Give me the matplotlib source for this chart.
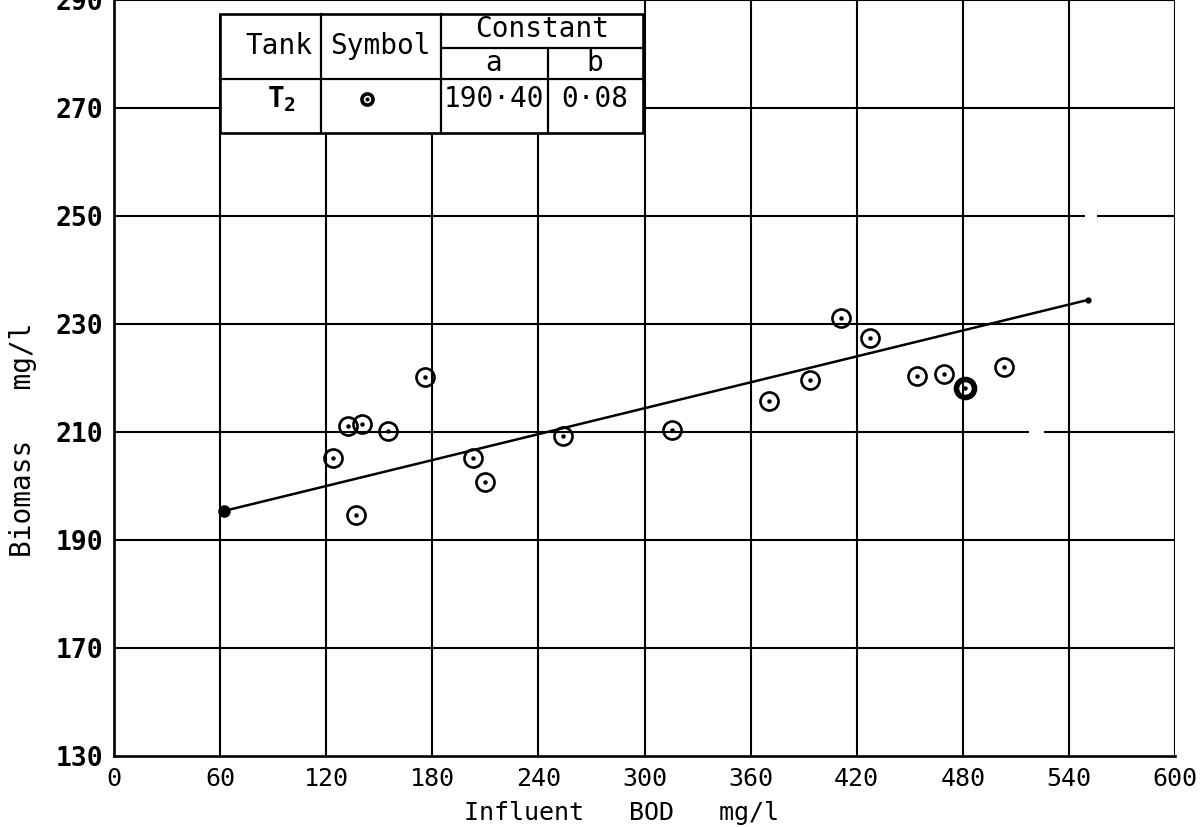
import matplotlib
matplotlib.use("Agg")
import matplotlib.pyplot as plt
from matplotlib.patches import Rectangle

# Observations for tank T2: influent BOD (mg/l) against biomass (mg/l)
bod = [123.6, 132.2, 136.9, 140.3, 155.0, 176.0, 202.9, 209.7, 253.8, 315.5,
       370.3, 393.4, 411.1, 427.7, 454.2, 469.4, 481.5, 503.2]
biomass = [205.1, 211.2, 194.7, 211.4, 210.1, 220.2, 205.2, 200.7, 209.2, 210.4,
           215.8, 219.6, 231.2, 227.4, 220.4, 220.7, 218.2, 222.1]
heavy_points = [16]          # point inked more heavily on the sheet

# Fitted relation: biomass = a + b * BOD
tank_sub = "2"
const_a = 190.40
const_b = 0.08
fit_bod = [62.4, 550.6]      # extent of the drawn fit line

x_ticks = [0, 60, 120, 180, 240, 300, 360, 420, 480, 540, 600]
y_tick_labels = [130, 170, 190, 210, 230, 250, 270, 290]

MONO = "DejaVu Sans Mono"
plt.rcParams["font.family"] = [MONO, "DejaVu Sans"]
plt.rcParams["mathtext.fontset"] = "custom"
plt.rcParams["mathtext.rm"] = MONO
plt.rcParams["mathtext.bf"] = MONO + ":bold"

fig = plt.figure(figsize=(12.01, 8.27), dpi=100)
ax = fig.add_axes([114 / 1201, 71 / 827, 1061 / 1201, 756 / 827])
ax.set_xlim(0, 600)
ax.set_ylim(150, 290)

# broken y axis: the bottom edge carries 130, one grid step below 170
grid_step = y_tick_labels[2] - y_tick_labels[1]
y_pos = [y_tick_labels[1] - grid_step] + y_tick_labels[1:]

for side in ("top", "right"):
    ax.spines[side].set_visible(False)
for side in ("left", "bottom"):
    ax.spines[side].set_linewidth(1.9)
    ax.spines[side].set_zorder(2)

# table geometry (data coordinates)
tx = [60, 117, 184.7, 245.2, 299]
ty_bot, ty_row, ty_sub, ty_top = 265.4, 275.4, 281.1, 287.4

# graph-paper grid
grid_kw = dict(color="black", linewidth=1.5, zorder=1)
for xv in x_ticks[1:]:
    top = ty_top if xv <= 240 else 290
    ax.vlines(xv, 150, top, **grid_kw)
gaps = {250: (549, 556), 210: (517.3, 525.7)}
for yv in y_pos[1:]:
    if yv in gaps:
        g0, g1 = gaps[yv]
        ax.hlines(yv, 0, g0, **grid_kw)
        ax.hlines(yv, g1, 600, **grid_kw)
    else:
        ax.hlines(yv, 0, 600, **grid_kw)

# fit line with its end dots
fit_y = [const_a + const_b * x for x in fit_bod]
ax.plot(fit_bod, fit_y, color="black", linewidth=1.8, zorder=4)
ax.plot(fit_bod[0], fit_y[0], "o", color="black", ms=8, zorder=4)
ax.plot(fit_bod[1], fit_y[1], "o", color="black", ms=3.5, zorder=4)

# observed points: open circles with a centre dot
ax.plot(bod, biomass, "o", ms=13, mfc="none", mec="black", mew=1.9, zorder=5)
ax.plot([bod[i] for i in heavy_points], [biomass[i] for i in heavy_points], "o",
        ms=13, mfc="none", mec="black", mew=4.0, zorder=5)
ax.plot(bod, biomass, "o", ms=2.2, color="black", zorder=6)

# constants table
ax.add_patch(Rectangle((tx[0], ty_bot), tx[-1] - tx[0], ty_top - ty_bot,
                       facecolor="white", edgecolor="black", linewidth=1.9,
                       zorder=7, clip_on=False))
line_kw = dict(color="black", linewidth=1.6, zorder=8, clip_on=False)
ax.plot([tx[0], tx[-1]], [ty_row, ty_row], **line_kw)
ax.plot([tx[2], tx[-1]], [ty_sub, ty_sub], **line_kw)
for xv in tx[1:3]:
    ax.plot([xv, xv], [ty_bot, ty_top], **line_kw)
ax.plot([tx[3], tx[3]], [ty_bot, ty_sub], **line_kw)

cell_kw = dict(ha="center", va="center", fontsize=20, zorder=9)
head_y = (ty_row + ty_top) / 2
ax.text((tx[0] + tx[1]) / 2 + 5, head_y, "Tank", **cell_kw)
ax.text((tx[1] + tx[2]) / 2, head_y, "Symbol", **cell_kw)
ax.text((tx[2] + tx[4]) / 2, (ty_sub + ty_top) / 2 + 0.3, "Constant", **cell_kw)
ax.text((tx[2] + tx[3]) / 2, (ty_row + ty_sub) / 2, "a", **cell_kw)
ax.text((tx[3] + tx[4]) / 2, (ty_row + ty_sub) / 2, "b", **cell_kw)
row_y = 271.6
ax.text((tx[0] + tx[1]) / 2 + 6, row_y, r"$\mathbf{T_{%s}}$" % tank_sub,
        ha="center", va="center", fontsize=20, zorder=9)
sym_x = (tx[1] + tx[2]) / 2 - 8
ax.plot(sym_x, row_y, "o", ms=8, mfc="none", mec="black",
        mew=2.6, zorder=9, clip_on=False)
ax.plot(sym_x, row_y, "o", ms=2, color="black", zorder=9, clip_on=False)
ax.text((tx[2] + tx[3]) / 2, row_y, f"{const_a:.2f}".replace(".", "·"), **cell_kw)
ax.text((tx[3] + tx[4]) / 2, row_y, f"{const_b:.2f}".replace(".", "·"), **cell_kw)

# axes ticks and labels
ax.set_xticks(x_ticks)
ax.set_xticklabels([str(v) for v in x_ticks], fontsize=18)
ax.set_yticks(y_pos)
ax.set_yticklabels([str(v) for v in y_tick_labels], fontsize=19, fontweight="bold")
ax.tick_params(axis="x", length=0, pad=8)
ax.tick_params(axis="y", length=0, pad=8)

ax.set_xlabel("Influent   BOD   mg/l", fontsize=18)
ax.xaxis.set_label_coords((621 - 114) / 1061, (756 - 813) / 756)
ax.xaxis.label.set_va("center")
ax.set_ylabel("Biomass   mg/l", fontsize=20)
ax.yaxis.set_label_coords((23 - 114) / 1061, (756 - 440) / 756)
ax.yaxis.label.set_va("center")

fig.savefig("out.png", dpi=100, facecolor="white")
